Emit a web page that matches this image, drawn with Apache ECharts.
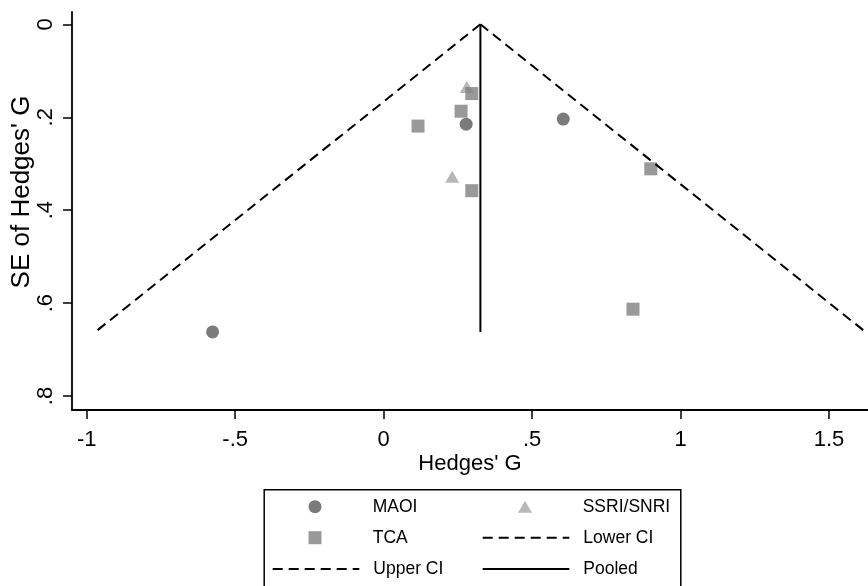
<!DOCTYPE html>
<html><head><meta charset="utf-8">
<script src="https://cdn.jsdelivr.net/npm/echarts@6/dist/echarts.min.js"></script>
<style>html,body{margin:0;padding:0;background:#fff}#c{width:868px;height:586px}</style>
</head><body><div id="c"></div>
<script>
// Data (x = Hedges' G, y = SE)
const maoi = [[0.278, 0.215], [0.605, 0.204], [-0.576, 0.662]];
const ssri = [[0.280, 0.135], [0.231, 0.328]];
const tca = [[0.297, 0.149], [0.261, 0.187], [0.116, 0.219], [0.297, 0.358], [0.900, 0.311], [0.840, 0.613]];
const pooled = [[0.326, 0], [0.326, 0.662]];
const lowerCI = [[0.326, 0], [-0.971, 0.662]];
const upperCI = [[0.326, 0], [1.623, 0.662]];
const xTicks = [-1, -0.5, 0, 0.5, 1, 1.5];
const xTickLabels = ['-1', '-.5', '0', '.5', '1', '1.5'];
const yTicks = [0, 0.2, 0.4, 0.6, 0.8];
const yTickLabels = ['0', '.2', '.4', '.6', '.8'];

const FONT = "'Liberation Sans', Arial, Helvetica, sans-serif";
function lab(ticks, labels) {
  return v => { let bi = 0; ticks.forEach((t, i) => { if (Math.abs(t - v) < Math.abs(ticks[bi] - v)) bi = i; }); return labels[bi]; };
}
const chart = echarts.init(document.getElementById('c'), null, {renderer: 'canvas'});
const legText = {fontSize: 17.5, fontFamily: FONT, color: '#000'};
function leg(name, left, cy, w, h, pad, isLine) {
  const l = {data: [name], left: left, top: cy - 9, itemWidth: w, itemHeight: h, padding: 0,
    selectedMode: false, textStyle: Object.assign({padding: [0, 0, 0, pad || 0], lineHeight: 18}, legText)};
  if (isLine) l.itemStyle = {opacity: 0};
  return l;
}
chart.setOption({
  animation: false,
  backgroundColor: '#fff',
  grid: {left: 72, right: 0, top: 12, bottom: 176, containLabel: false, outerBoundsMode: 'none'},
  xAxis: {
    type: 'value', min: -1.0495, max: 1.6315,
    name: "Hedges' G", nameLocation: 'middle', nameGap: 43, nameMoveOverlap: false,
    nameTextStyle: {fontSize: 22, fontFamily: FONT, color: '#000'},
    axisLine: {show: true, onZero: false, lineStyle: {color: '#000', width: 1.8}},
    axisTick: {show: true, length: 9, lineStyle: {color: '#000', width: 1.5}, customValues: xTicks},
    axisLabel: {fontSize: 22, fontFamily: FONT, color: '#000', margin: 19, customValues: xTicks, formatter: lab(xTicks, xTickLabels)},
    splitLine: {show: false}
  },
  yAxis: {
    type: 'value', min: -0.0265, max: 0.830, inverse: true,
    name: "SE of Hedges' G", nameLocation: 'middle', nameGap: 37, nameRotate: 90, nameMoveOverlap: false,
    nameTextStyle: {fontSize: 26, fontFamily: FONT, color: '#000', padding: [0, 0, 0, 38]},
    axisLine: {show: true, onZero: false, lineStyle: {color: '#000', width: 1.8}},
    axisTick: {show: true, length: 9, lineStyle: {color: '#000', width: 1.5}, customValues: yTicks},
    axisLabel: {fontSize: 22, fontFamily: FONT, color: '#000', margin: 15, rotate: 90, customValues: yTicks, formatter: lab(yTicks, yTickLabels)},
    splitLine: {show: false}
  },
  legend: [
    leg('MAOI', 308.5, 506.7, 13, 13, 46.2),
    leg('TCA', 308.5, 537.7, 13, 13, 46.2),
    leg('Upper CI', 271.7, 569, 86.6, 14, 9, true),
    leg('SSRI/SNRI', 518, 506.7, 14, 12, 45.7),
    leg('Lower CI', 481.7, 537.7, 86.6, 14, 9, true),
    leg('Pooled', 481.7, 569, 86.6, 14, 9, true)
  ],
  graphic: [{type: 'rect', left: 261.7, top: 487.3, shape: {width: 416.6, height: 130},
    style: {fill: 'none', stroke: '#000', lineWidth: 1.5}, silent: true}],
  series: [
    {name: 'MAOI', type: 'scatter', data: maoi, symbol: 'circle', symbolSize: 13, itemStyle: {color: '#5a5a5a'}, z: 3},
    {name: 'SSRI/SNRI', type: 'scatter', data: ssri, symbol: 'triangle', symbolSize: [14, 12], itemStyle: {color: '#a5a5a5'}, z: 3},
    {name: 'TCA', type: 'scatter', data: tca, symbol: 'rect', symbolSize: 13, itemStyle: {color: '#808080'}, z: 3},
    {name: 'Lower CI', type: 'line', data: lowerCI, symbol: 'none', showSymbol: false, lineStyle: {color: '#000', width: 2, type: [10, 6]}, itemStyle: {color: '#000'}, z: 4},
    {name: 'Upper CI', type: 'line', data: upperCI, symbol: 'none', showSymbol: false, lineStyle: {color: '#000', width: 2, type: [10, 6]}, itemStyle: {color: '#000'}, z: 4},
    {name: 'Pooled', type: 'line', data: pooled, symbol: 'none', showSymbol: false, lineStyle: {color: '#000', width: 2}, itemStyle: {color: '#000'}, z: 4}
  ]
});
</script>
</body></html>
